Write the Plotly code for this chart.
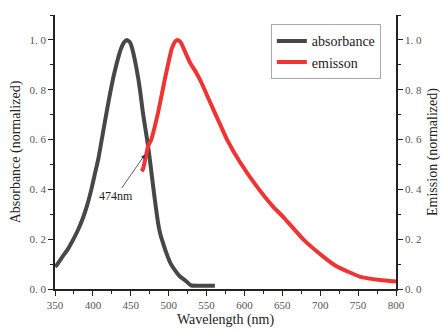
import plotly.graph_objects as go

abs_wl = [350, 352, 360, 367, 374, 380, 385, 392, 398, 403, 407, 410, 414, 418, 423, 427, 431, 434, 437, 441, 445,
          449, 452, 456, 460, 463, 466, 470, 473, 476, 480, 483, 486, 489, 492, 497, 503, 508, 515, 522, 527, 530, 545, 561]
abs_val = [0.09, 0.095, 0.13, 0.16, 0.198, 0.235, 0.27, 0.332, 0.40, 0.467, 0.52, 0.57, 0.64, 0.708, 0.79, 0.85, 0.90, 0.935, 0.964, 0.99, 1.0,
           0.99, 0.964, 0.91, 0.843, 0.78, 0.708, 0.63, 0.57, 0.50, 0.40, 0.33, 0.265, 0.22, 0.19, 0.144, 0.10, 0.077, 0.05, 0.034, 0.02, 0.014, 0.013, 0.013]

em_wl = [464, 466, 469, 473, 477, 486, 495, 504, 509, 512, 516, 522, 528, 536, 543, 551, 559, 568, 577, 594, 616, 638, 651, 678, 704, 722, 752, 779, 800]
em_val = [0.473, 0.48, 0.52, 0.574, 0.60, 0.708, 0.843, 0.964, 0.995, 1.0, 0.99, 0.95, 0.91, 0.87, 0.83, 0.775, 0.72, 0.66, 0.60, 0.51, 0.413, 0.33, 0.29, 0.198, 0.13, 0.09, 0.05, 0.036, 0.03]

y_ticks = [0, 0.2, 0.4, 0.6, 0.8, 1.0]
y_ticktext = ["0. 0", "0. 2", "0. 4", "0. 6", "0. 8", "1. 0"]
x_ticks = [350, 400, 450, 500, 550, 600, 650, 700, 750, 800]

FONT = "Liberation Serif"

fig = go.Figure()
fig.add_trace(go.Scatter(x=abs_wl, y=abs_val, mode="lines", name="absorbance",
                         line=dict(color="#474747", width=4, shape="spline", smoothing=0.4)))
fig.add_trace(go.Scatter(x=em_wl, y=em_val, mode="lines", name="emisson", yaxis="y2",
                         line=dict(color="#f03333", width=4, shape="spline", smoothing=0.4)))

axis_common = dict(showline=True, linecolor="#222", linewidth=1.5, ticks="outside",
                   ticklen=5, tickcolor="#222", tickwidth=1.2, showgrid=False, zeroline=False,
                   automargin=False,
                   tickfont=dict(family=FONT, size=11, color="#555"))

fig.update_layout(
    width=445, height=331,
    margin=dict(l=55, r=49, t=15, b=42),
    paper_bgcolor="white", plot_bgcolor="white",
    font=dict(family=FONT, color="#222"),
    xaxis=dict(range=[350, 800], tickvals=x_ticks,
               minor=dict(dtick=25, ticks="outside", ticklen=3, tickcolor="#222"),
               title=dict(text="Wavelength (nm)", font=dict(family=FONT, size=14, color="#222"), standoff=4),
               **axis_common),
    yaxis=dict(range=[0, 1.1], tickvals=y_ticks, ticktext=y_ticktext,
               minor=dict(dtick=0.1, ticks="outside", ticklen=3, tickcolor="#222"),
               title=dict(text="Absorbance (normalized)", font=dict(family=FONT, size=14, color="#222"), standoff=6),
               **axis_common),
    yaxis2=dict(range=[0, 1.1], tickvals=y_ticks, ticktext=y_ticktext, overlaying="y", side="right",
                minor=dict(dtick=0.1, ticks="outside", ticklen=3, tickcolor="#222"),
                title=dict(text="Emission (normalized)", font=dict(family=FONT, size=14, color="#222"), standoff=6),
                **axis_common),
    legend=dict(x=0.633, y=0.966, xanchor="left", yanchor="top",
                bordercolor="#aaa", borderwidth=1, bgcolor="white",
                font=dict(family=FONT, size=14, color="#222"),
                itemwidth=30, tracegroupgap=0),
    showlegend=True,
)

fig.add_annotation(x=468.7, y=0.54, xref="x", yref="y", text="474nm",
                   showarrow=True, arrowhead=2, arrowsize=1, arrowwidth=0.8, arrowcolor="#333",
                   ax=-29, ay=42, font=dict(family=FONT, size=12, color="#222"))

fig.write_html("out.html")
